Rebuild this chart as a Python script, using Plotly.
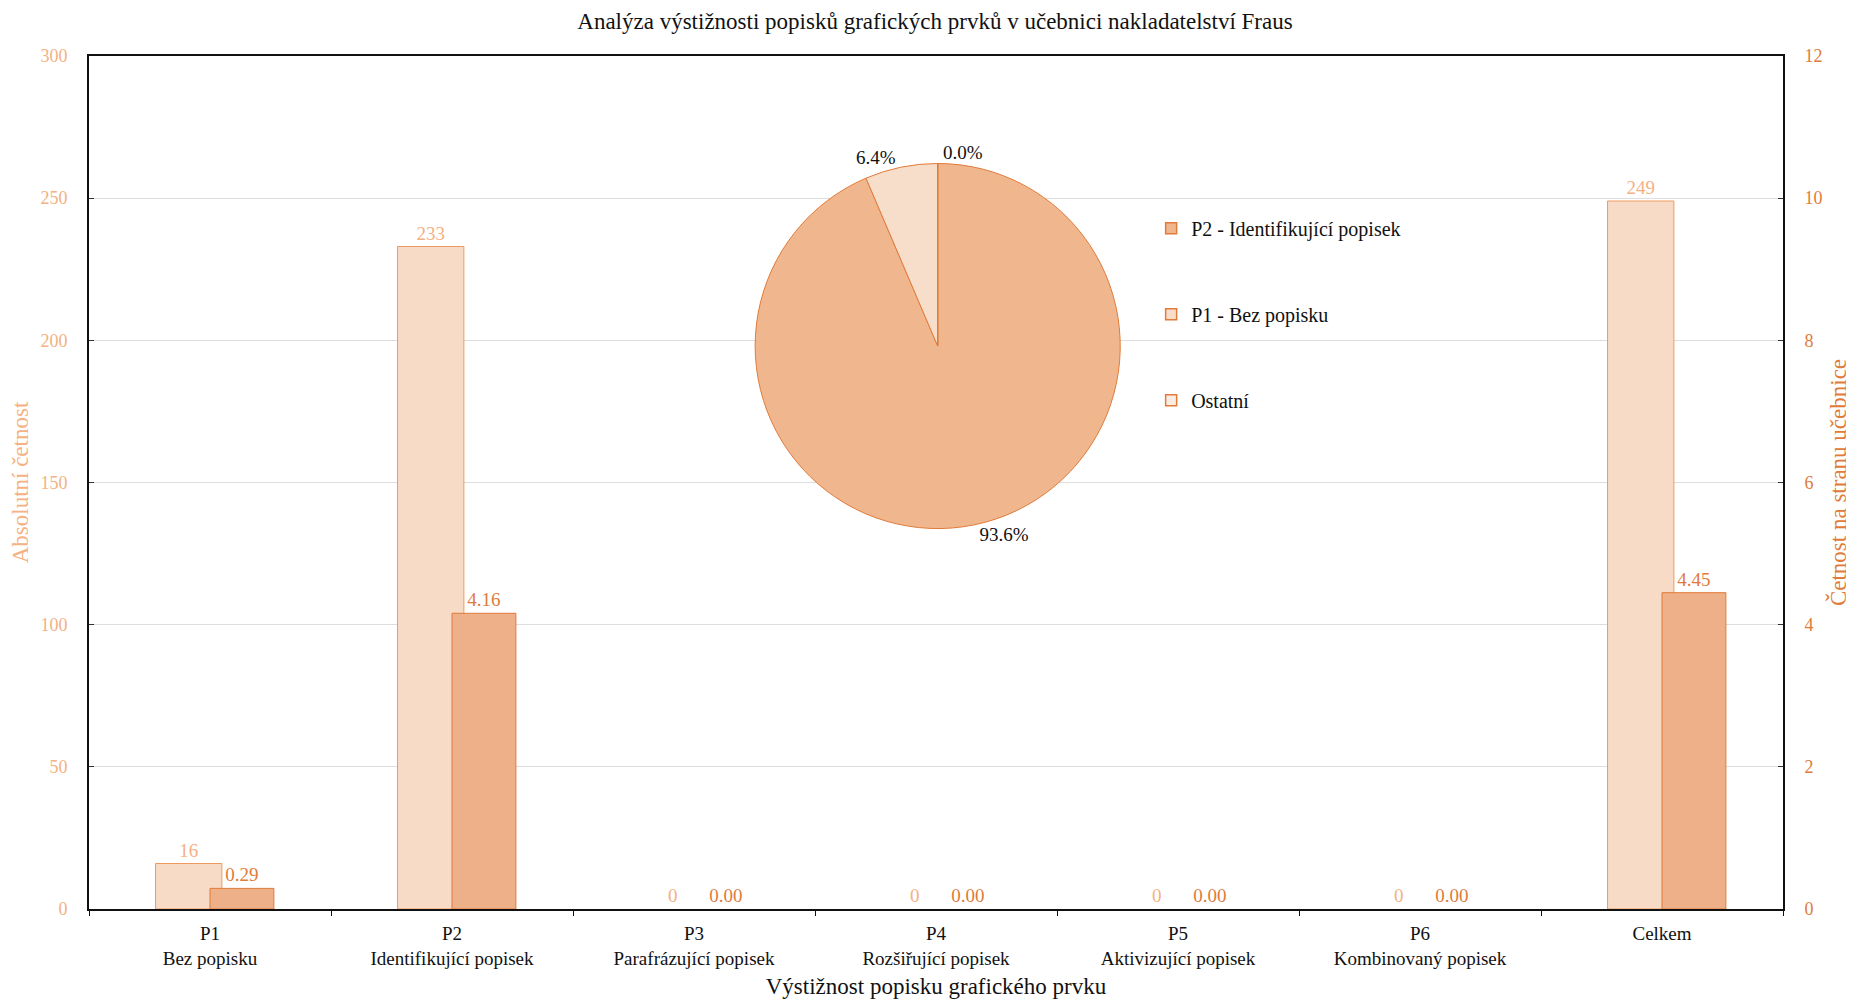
import plotly.graph_objects as go

categories = ["P1<br>Bez popisku", "P2<br>Identifikující popisek", "P3<br>Parafrázující popisek",
              "P4<br>Rozšiřující popisek", "P5<br>Aktivizující popisek", "P6<br>Kombinovaný popisek", "Celkem"]
abs_counts = [16, 233, 0, 0, 0, 0, 249]
per_page = [0.29, 4.16, 0.00, 0.00, 0.00, 0.00, 4.45]
pie_labels = ["P2 - Identifikující popisek", "P1 - Bez popisku", "Ostatní"]
pie_values = [233, 16, 0]

FONT = "Palatino Linotype, Book Antiqua, Palatino, Liberation Serif, serif"
LIGHT_FILL = "#F8DBC6"
LIGHT_LINE = "#EC9A60"
LIGHT_TEXT = "#F4B183"
DARK_FILL = "#EEB088"
DARK_LINE = "#E07B39"
DARK_TEXT = "#E07B39"
PIE_COLORS = ["#F0B78F", "#F7DECB", "#FBEDE3"]

fig = go.Figure()

fig.add_trace(go.Bar(
    x=categories, y=abs_counts, name="Absolutní četnost",
    offset=-0.225, width=0.274,
    marker=dict(color=LIGHT_FILL, line=dict(color=LIGHT_LINE, width=[1 if v > 0 else 0 for v in abs_counts])),
    text=[str(v) for v in abs_counts], textposition="outside",
    textfont=dict(color=LIGHT_TEXT, size=19, family=FONT),
    cliponaxis=False, showlegend=False, yaxis="y",
))
fig.add_trace(go.Bar(
    x=categories, y=per_page, name="Četnost na stranu učebnice",
    offset=0.0, width=0.264,
    marker=dict(color=DARK_FILL, line=dict(color=DARK_LINE, width=[1 if v > 0 else 0 for v in per_page])),
    text=[f"{v:.2f}" for v in per_page], textposition="outside",
    textfont=dict(color=DARK_TEXT, size=19, family=FONT),
    cliponaxis=False, showlegend=False, yaxis="y2",
))

fig.add_trace(go.Pie(
    labels=pie_labels, values=pie_values, sort=False, direction="clockwise", rotation=0,
    marker=dict(colors=PIE_COLORS, line=dict(color=DARK_LINE, width=1)),
    texttemplate="%{percent:.1%}", textposition="outside",
    textfont=dict(color="#111111", size=19, family=FONT),
    domain=dict(x=[0.393, 0.609], y=[0.446, 0.874]),
    showlegend=False, automargin=False,
))

# legend entries for the pie slices
for i, lab in enumerate(pie_labels):
    fig.add_trace(go.Scatter(
        x=[None], y=[None], mode="markers", name=lab, legendgroup=lab,
        marker=dict(symbol="square", size=11, color=PIE_COLORS[i], line=dict(color=DARK_LINE, width=1.5)),
        showlegend=True,
    ))

fig.update_layout(
    width=1854, height=1000,
    paper_bgcolor="white", plot_bgcolor="white",
    font=dict(family=FONT, size=19, color="#111111"),
    margin=dict(l=81, r=79, t=48, b=99),
    barmode="overlay",
    title=dict(text="Analýza výstižnosti popisků grafických prvků v učebnici nakladatelství Fraus",
               x=0.5, xanchor="center", y=0.987, yanchor="middle",
               font=dict(size=23, color="#111111", family=FONT)),
    xaxis=dict(
        tickson="boundaries", ticks="outside", ticklen=5, tickcolor="#111111",
        showline=True, linecolor="#111111", linewidth=2, mirror=True,
        showgrid=False, tickfont=dict(size=19, color="#111111"), ticklabelstandoff=6,
        title=dict(text="Výstižnost popisku grafického prvku", font=dict(size=23, color="#111111"), standoff=10),
        automargin=False,
    ),
    yaxis=dict(
        range=[0, 300], dtick=50, showgrid=True, gridcolor="#DDDDDD", gridwidth=1,
        ticks="inside", ticklen=5, tickcolor="#333333",
        showline=True, linecolor="#111111", linewidth=2,
        tickfont=dict(size=18, color=LIGHT_TEXT), zeroline=False, ticklabelstandoff=16,
        title=dict(text="Absolutní četnost", font=dict(size=23, color=LIGHT_TEXT), standoff=7),
        automargin=False,
    ),
    yaxis2=dict(
        range=[0, 12], dtick=2, overlaying="y", side="right", showgrid=False,
        ticks="inside", ticklen=5, tickcolor="#333333",
        showline=True, linecolor="#111111", linewidth=2,
        tickfont=dict(size=18, color=DARK_TEXT), zeroline=False, ticklabelstandoff=16,
        title=dict(text="Četnost na stranu učebnice", font=dict(size=23, color=DARK_TEXT), standoff=8),
        automargin=False,
    ),
    legend=dict(
        x=0.627, y=0.821, xanchor="left", yanchor="top",
        bgcolor="rgba(0,0,0,0)", font=dict(size=20, color="#111111"),
        tracegroupgap=57, itemwidth=30,
    ),
)

fig.write_html("out.html")
